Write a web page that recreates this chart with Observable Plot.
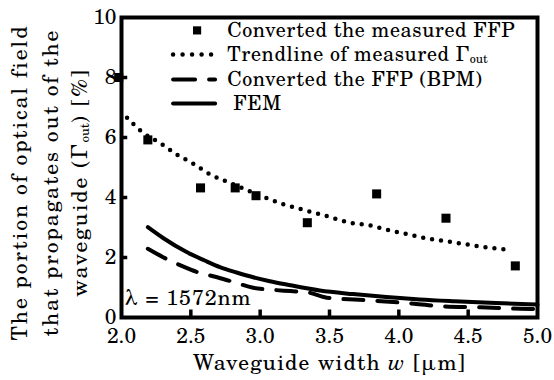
<!DOCTYPE html>
<html><head><meta charset="utf-8">
<script src="https://cdn.jsdelivr.net/npm/d3@7"></script>
<script src="https://cdn.jsdelivr.net/npm/@observablehq/plot@0.6"></script>
<style>
body{margin:0;background:#fff}
svg, svg text { font-family: "TeX Gyre Schola", "Century Schoolbook L", "C059", "Noto Serif", serif !important; }
svg tspan.sub { letter-spacing: 0 !important; }
</style>
</head><body><div id="chart"></div>
<script>
// ---- data ----
const measuredW = [1.98, 2.19, 2.57, 2.82, 2.97, 3.34, 3.84, 4.34, 4.84];
const measuredG = [8.0, 5.92, 4.32, 4.32, 4.06, 3.16, 4.12, 3.31, 1.72];
const trendW = [2.04, 2.15, 2.28, 2.40, 2.52, 2.64, 2.77, 2.90, 3.04, 3.17, 3.31, 3.45, 3.65, 3.79, 3.94, 4.08, 4.22, 4.36, 4.50, 4.66, 4.81];
const trendG = [6.66, 6.18, 5.81, 5.43, 5.12, 4.77, 4.51, 4.26, 3.99, 3.77, 3.59, 3.42, 3.16, 3.07, 2.90, 2.76, 2.62, 2.53, 2.43, 2.32, 2.26];
const bpmW = [2.19, 2.30, 2.43, 2.55, 2.69, 2.81, 2.95, 3.07, 3.22, 3.34, 3.48, 3.79, 4.11, 4.32, 4.59, 4.88, 5.0];
const bpmG = [2.29, 2.01, 1.73, 1.51, 1.34, 1.18, 0.99, 0.93, 0.88, 0.84, 0.66, 0.57, 0.46, 0.37, 0.34, 0.29, 0.28];
const femW = [2.19, 2.30, 2.47, 2.60, 2.71, 2.83, 2.95, 3.07, 3.19, 3.43, 3.67, 3.91, 4.15, 4.40, 4.70, 5.0];
const femG = [3.01, 2.65, 2.18, 1.90, 1.68, 1.50, 1.34, 1.21, 1.10, 0.90, 0.78, 0.68, 0.60, 0.54, 0.48, 0.43];
const xTicks = [2.0, 2.5, 3.0, 3.5, 4.0, 4.5, 5.0];
const yTicks = [0, 2, 4, 6, 8, 10];
const legendLabels = ["Converted the measured FFP", "Trendline of measured Γ_out", "Converted the FFP (BPM)", " FEM"];
const yTitle = ["The portion of optical field", "that propagates out of the", "waveguide (Γ_out) [%]"];
const xTitle = "Waveguide width {i:w} [μm]";
const lambdaLabel = "λ = 1572nm";

// ---- build tables ----
const zip = (xs, ys) => xs.map((w, i) => ({w, g: ys[i]}));
const measured = zip(measuredW, measuredG);
const trend = zip(trendW, trendG);
const bpm = zip(bpmW, bpmG);
const fem = zip(femW, femG);

const FONT = '"TeX Gyre Schola", "Century Schoolbook L", "C059", "Noto Serif", serif';
// legend layout (data units)
const legY = [9.57, 8.77, 7.93, 7.13];
const legX1 = 2.372, legX2 = 2.675, legXm = 2.545, legXt = 2.762;
const LEG_FS = 20, TITLE_FS = 21.5;

// letter spacing so text widths follow the reference (style only)
const ctx = document.createElement("canvas").getContext("2d");
function spacing(str, size, target) {
  ctx.font = `${size}px ${FONT}`;
  const w = ctx.measureText(str).width;
  return Math.max(-0.5, Math.min(2.5, (target - w) / str.length));
}
const lsLegend = spacing("Converted the measured FFP", LEG_FS, 288);
const lsY = spacing("The portion of optical field", TITLE_FS, 315);
const lsX = spacing("Waveguide width w [μm]", TITLE_FS, 273);
const lsL = spacing(lambdaLabel, TITLE_FS, 127);

const lineStyle = {x: "w", y: "g", stroke: "black", strokeWidth: 4, curve: "monotone-x"};
const T = {fill: "black", fontFamily: FONT};

const chart = Plot.plot({
  width: 554, height: 380,
  marginLeft: 121, marginRight: 17, marginTop: 17, marginBottom: 63,
  style: {fontFamily: FONT, background: "white", color: "black"},
  x: {domain: [2, 5], ticks: xTicks},
  y: {domain: [0, 10], ticks: yTicks},
  marks: [
    Plot.axisX({ticks: xTicks, tickSize: 0, tickPadding: 11, fontSize: 21, fontFamily: FONT, tickFormat: d3.format(".1f"), label: null}),
    Plot.axisY({ticks: yTicks, tickSize: 0, tickPadding: 5, fontSize: 21, fontFamily: FONT, tickFormat: d => d, label: null}),
    Plot.ruleX(xTicks.slice(1, -1), {x: d => d, y1: 0, y2: 0.25, stroke: "black", strokeWidth: 3.5}),
    Plot.ruleY(yTicks.slice(1, -1), {y: d => d, x1: 2, x2: 2.045, stroke: "black", strokeWidth: 3.5}),
    Plot.line(trend, {...lineStyle, strokeWidth: 4.5, strokeDasharray: "0,9", strokeLinecap: "round"}),
    Plot.line(bpm, {...lineStyle, strokeDasharray: "20,14"}),
    Plot.line(fem, {...lineStyle}),
    Plot.dot(measured, {x: "w", y: "g", symbol: "square", r: 5.1, fill: "black"}),
    Plot.frame({stroke: "black", strokeWidth: 4}),
    // legend
    Plot.dot([0], {x: () => legXm, y: () => legY[0], symbol: "square", r: 4.6, fill: "black"}),
    Plot.line([legX1, legX2], {x: d => d, y: () => legY[1], stroke: "black", strokeWidth: 4.5, strokeDasharray: "0,9.5", strokeLinecap: "round"}),
    Plot.line([legX1, legX2], {x: d => d, y: () => legY[2], stroke: "black", strokeWidth: 4, strokeDasharray: "22,14"}),
    Plot.line([legX1, legX2], {x: d => d, y: () => legY[3], stroke: "black", strokeWidth: 4}),
    Plot.text(legendLabels, {...T, className: "leg", x: () => legXt, y: (d, i) => legY[i], text: d => d, textAnchor: "start", lineAnchor: "middle", fontSize: LEG_FS}),
    // lambda annotation
    Plot.text([lambdaLabel], {...T, className: "lam", frameAnchor: "bottom-left", dx: 3, dy: -19, textAnchor: "start", lineAnchor: "middle", fontSize: TITLE_FS}),
    // axis titles
    Plot.text([xTitle], {...T, className: "xt", frameAnchor: "bottom", dy: 46, textAnchor: "middle", lineAnchor: "middle", fontSize: TITLE_FS}),
    Plot.text([yTitle[0]], {...T, className: "yt", frameAnchor: "left", dx: -101, dy: 15, rotate: -90, textAnchor: "middle", lineAnchor: "middle", fontSize: TITLE_FS}),
    Plot.text([yTitle[1]], {...T, className: "yt", frameAnchor: "left", dx: -70, dy: 15, rotate: -90, textAnchor: "middle", lineAnchor: "middle", fontSize: TITLE_FS}),
    Plot.text([yTitle[2]], {...T, className: "yt", frameAnchor: "left", dx: -41, dy: 15, rotate: -90, textAnchor: "middle", lineAnchor: "middle", fontSize: TITLE_FS})
  ]
});

// rich text: "_xxx" -> subscript, "{i:xxx}" -> italic
const NS = "http://www.w3.org/2000/svg";
chart.querySelectorAll("text").forEach(t => {
  if (t.querySelector("tspan")) return;
  const s = t.textContent;
  if (!/_\w|\{i:/.test(s)) return;
  t.textContent = "";
  const re = /_(\w+)|\{i:(\w+)\}/g;
  let last = 0, m;
  while ((m = re.exec(s))) {
    if (m.index > last) t.appendChild(document.createTextNode(s.slice(last, m.index)));
    const sp = document.createElementNS(NS, "tspan");
    if (m[1]) { sp.setAttribute("class", "sub"); sp.setAttribute("baseline-shift", "-18%"); sp.setAttribute("font-size", "60%"); sp.textContent = m[1]; }
    else { sp.setAttribute("font-style", "italic"); sp.textContent = m[2]; }
    t.appendChild(sp);
    last = re.lastIndex;
  }
  if (last < s.length) t.appendChild(document.createTextNode(s.slice(last)));
});
const setLS = (cls, ls) => chart.querySelectorAll(`g.${cls} text`).forEach(t => t.style.letterSpacing = ls + "px");
setLS("leg", lsLegend); setLS("yt", lsY); setLS("xt", lsX); setLS("lam", lsL);

document.getElementById("chart").appendChild(chart);
</script>
</body></html>
